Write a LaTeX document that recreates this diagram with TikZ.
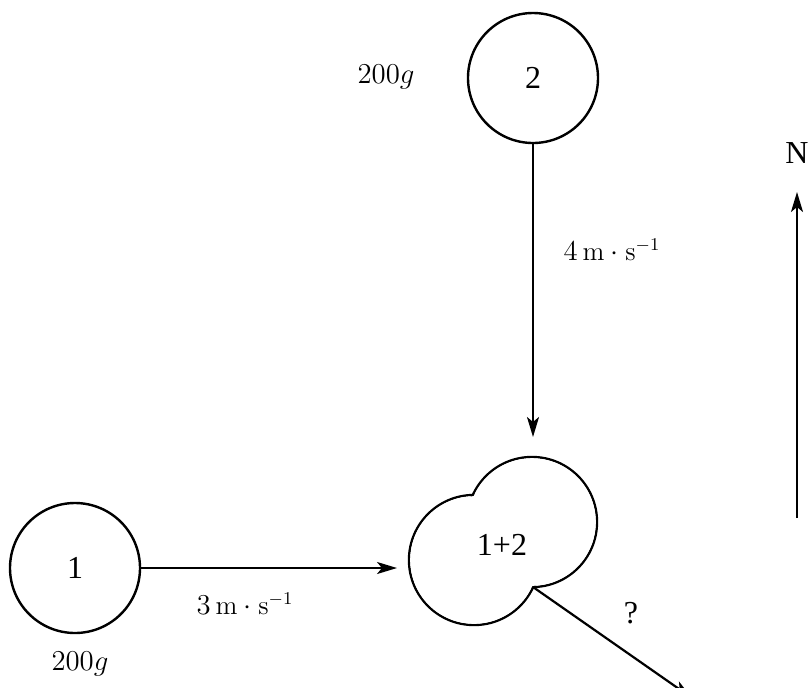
\documentclass[tikz,border=0pt]{standalone}
\usepackage{fontspec}
\newfontfamily\tnr{Liberation Serif}
\usetikzlibrary{arrows.meta}
\begin{document}
\begin{tikzpicture}[x=0.5pt,y=-0.5pt,
  ball/.style={circle,draw,line width=1.2pt,minimum size=130*0.5pt,inner sep=0pt},
  arr/.style={line width=1.1pt,-{Stealth[length=10pt,width=6pt,inset=2.5pt]}},
  lbl/.style={font=\tnr\fontsize{16}{18}\selectfont},
  mlbl/.style={font=\fontsize{13.4}{15}\selectfont}]
\useasboundingbox (0,0) rectangle (809,687);
\node[ball,lbl] (b1) at (75,568) {1};
\node[ball,lbl] (b2) at (533,78) {2};
% merged body: union of two circles
\coordinate (cL) at (474,560);
\coordinate (cR) at (532,522);
\coordinate (cusp) at (533,587);
\draw[line width=1.2pt] (cL) circle[radius=65] (cR) circle[radius=65];
\fill[white] (cL) circle[radius=63.8] (cR) circle[radius=63.8];
\node[lbl] (m) at (502,545) {1+2};
\coordinate (e1) at (397,568);
\coordinate (e2) at (533,437);
\coordinate (e3) at (692,698);
\coordinate (nb) at (797,518);
\coordinate (nt) at (797,192);
\draw[arr] (b1) -- (e1);
\draw[arr] (b2) -- (e2);
\draw[arr] (cusp) -- (e3);
\draw[arr] (nb) -- (nt);
\node[lbl] (N) at (797,153) {N};
\node[lbl] (q) at (631,613) {?};
\node[mlbl] (v1) at (245,604) {$3\,\mathrm{m}\cdot\mathrm{s}^{-1}$};
\node[mlbl] (v2) at (612,250) {$4\,\mathrm{m}\cdot\mathrm{s}^{-1}$};
\node[mlbl] (m1) at (80,664) {$200g$};
\node[mlbl] (m2) at (386,77) {$200g$};
\end{tikzpicture}
\end{document}
